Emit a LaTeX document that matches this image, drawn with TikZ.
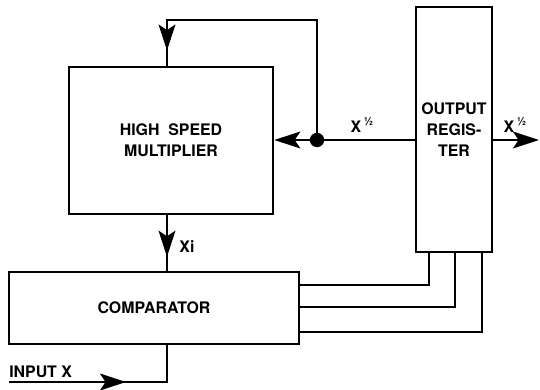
\documentclass[tikz,border=0pt]{standalone}
\usepackage{fontspec}
\setmainfont{TeX Gyre Heros}
\usepackage{tikz}
\usetikzlibrary{arrows.meta,positioning,calc,decorations.markings}

\newcommand{\halfsup}{\,\raisebox{0.42em}{\fontsize{8}{8}\selectfont ½}}

\begin{document}
\begin{tikzpicture}[
    x=0.25mm, y=-0.25mm,
    blk/.style={rectangle, draw, line width=1.8pt, minimum width=#1, align=center, font=\bfseries\fontsize{11.3}{15}\selectfont},
    lbl/.style={font=\bfseries\fontsize{11.3}{13}\selectfont, inner sep=0pt},
    wire/.style={line width=1.8pt},
    arr/.style={wire, -{Stealth[length=6.5mm, width=4.2mm, inset=1.4mm]}},
    midarr/.style={wire, postaction={decorate}, decoration={markings,
        mark=at position #1 with {\arrow{Stealth[length=6.5mm, width=4.2mm, inset=1.4mm]}}}}
]
\useasboundingbox (0,0) rectangle (540,390);

\node[blk=51mm, minimum height=36.75mm] (mult) at (171,140.5) {HIGH\ \ SPEED\\MULTIPLIER};
\node[blk=19mm, minimum height=61.25mm] (reg) at (454,129.5) {OUTPUT\\REGIS-\\TER};
\node[blk=72.5mm, minimum height=18mm] (comp) at (154,308) {COMPARATOR};

\coordinate (dot) at (317,140);
\coordinate (fbtop) at (167,20);
\coordinate (out) at (539,140);
\coordinate (inp) at (9,382);

% feedback loop
\fill (dot) circle (1.8mm);
\draw[wire] (reg.west |- dot) -- (dot);
\draw[arr] (dot) -- (mult.east |- dot);
\draw[midarr=-3.8mm] (dot) |- (fbtop) -- (fbtop |- mult.north);
\draw[arr] (reg.east |- out) -- (out);

% multiplier to comparator
\draw[midarr=-3.5mm] (fbtop |- mult.south) -- (fbtop |- comp.north);

% input
\draw[midarr=29.25mm] (inp) -| (fbtop |- comp.south);

% register bus
\foreach \dx/\dy in {-6.25mm/5.75mm, 0.25mm/0.25mm, 7mm/-6mm}
  \draw[wire] ([xshift=\dx]reg.south) |- ([yshift=\dy]comp.east);

% labels
\node[lbl] (xmid) at (362,125) {X\halfsup};
\node[lbl] (xout) at (515,125) {X\halfsup};
\node[lbl] (xi) at (187,247) {Xi};
\node[lbl, anchor=west] (inlbl) at (9,372) {INPUT X};

\end{tikzpicture}
\end{document}
